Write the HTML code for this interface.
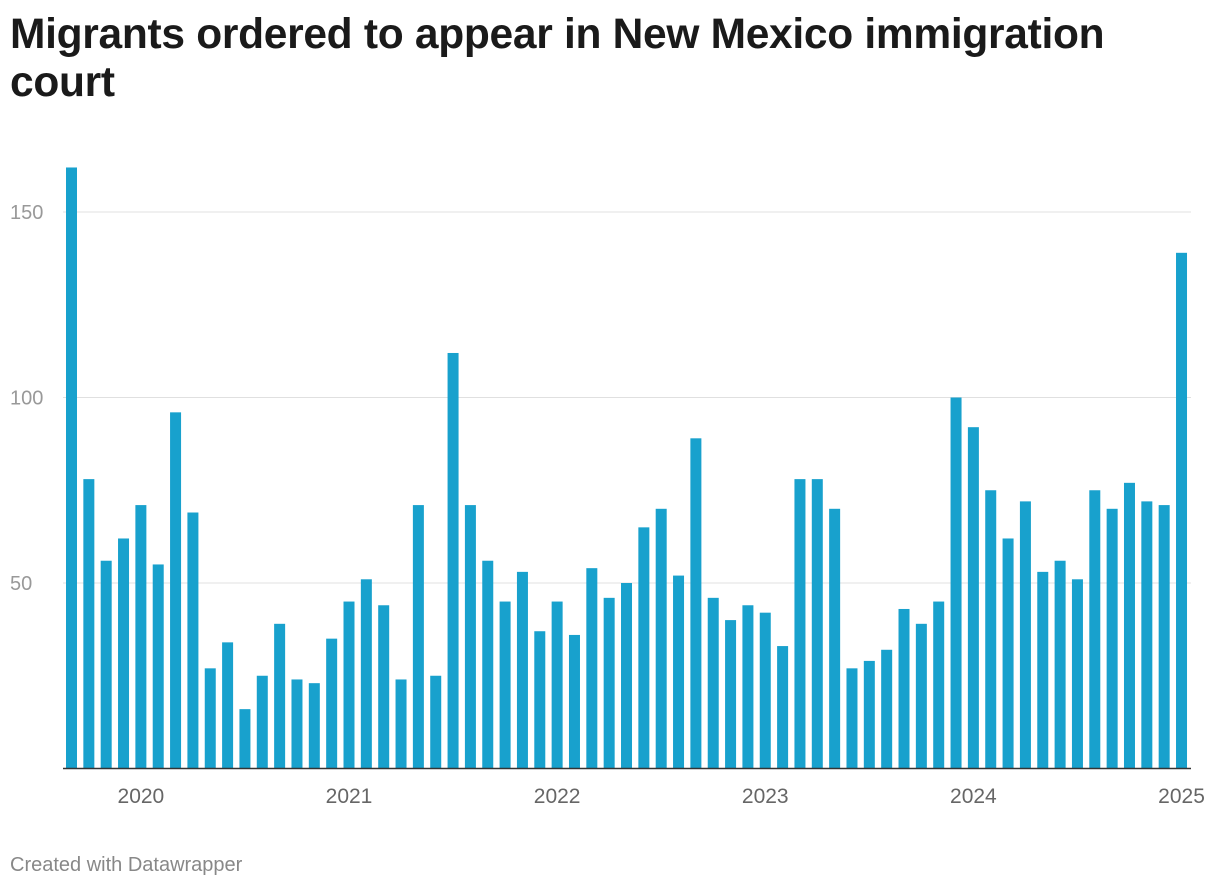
<!DOCTYPE html>
<html><head><meta charset="utf-8">
<style>
body{margin:0;background:#fff;width:1220px;height:890px;overflow:hidden;font-family:"Liberation Sans",sans-serif;}
h1{position:absolute;left:10px;top:11px;margin:0;font-size:42.5px;line-height:48px;font-weight:bold;color:#1a1a1a;width:1120px;letter-spacing:-0.3px;}
.foot{position:absolute;left:10px;top:854px;font-size:20px;color:#888;}
svg{position:absolute;left:0;top:0;}
</style></head><body>
<h1>Migrants ordered to appear in New Mexico immigration court</h1>
<svg id="chart" width="1220" height="890"></svg>
<div class="foot">Created with Datawrapper</div>
<script>
const values=[162,78,56,62,71,55,96,69,27,34,16,25,39,24,23,35,45,51,44,24,71,25,112,71,56,45,53,37,45,36,54,46,50,65,70,52,89,46,40,44,42,33,78,78,70,27,29,32,43,39,45,100,92,75,62,72,53,56,51,75,70,77,72,71,139];
const yTicks=[50,100,150];
const xLabels=["2020","2021","2022","2023","2024","2025"];
const xLabelIdx=[4,16,28,40,52,64];
const ns="http://www.w3.org/2000/svg",svg=document.getElementById('chart');
const y0=768.5,pxPer=3.71,x0=71.5,step=17.344,bw=11;
const y=v=>y0-v*pxPer, x=i=>x0+i*step;
function mk(t,a){const e=document.createElementNS(ns,t);for(const k in a)e.setAttribute(k,a[k]);svg.appendChild(e);return e;}
yTicks.forEach(v=>{
 const l=mk('line',{x1:63,x2:1191,y1:y(v),y2:y(v),stroke:'#e0e0e0','stroke-width':1});
 
 
 const t=mk('text',{x:10,y:y(v)+7,'font-size':20,fill:'#999','font-family':'Liberation Sans, sans-serif'});
 t.textContent=v;
 
 
});
values.forEach((v,i)=>{
 const r=mk('rect',{x:x(i)-bw/2,y:y(v),width:bw,height:v*pxPer,fill:'#18a1cd'});
 
 
});
const ax=mk('line',{x1:63,x2:1191,y1:y0,y2:y0,stroke:'#333','stroke-width':1.5});


xLabels.forEach((s,k)=>{
 const t=mk('text',{x:x(xLabelIdx[k]),y:803,'font-size':21,fill:'#666','text-anchor':'middle','font-family':'Liberation Sans, sans-serif'});
 t.textContent=s;
 
 
});
</script>
</body></html>
